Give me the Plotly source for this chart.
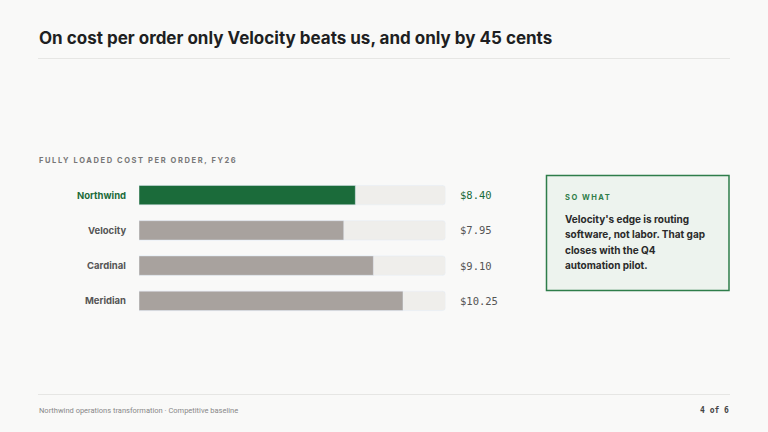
import plotly.graph_objects as go

# data
companies = ["Northwind", "Velocity", "Cardinal", "Meridian"]
cost_per_order = [8.40, 7.95, 9.10, 10.25]
value_labels = ["$8.40", "$7.95", "$9.10", "$10.25"]
track_max = 11.9

callout_lines = [
    "Velocity's edge is routing",
    "software, not labor. That gap",
    "closes with the Q4",
    "automation pilot.",
]

GREEN = "#1b6b3a"
GREY_BAR = "#a8a29e"
TRACK = "#efeeeb"
BG = "#f9f9f8"
W, H = 768, 432

fig = go.Figure()

# background track
fig.add_trace(go.Bar(
    y=companies, x=[track_max] * len(companies), orientation="h",
    marker=dict(color=TRACK), width=0.55, hoverinfo="skip", showlegend=False,
))
fig.add_trace(go.Bar(
    y=companies, x=cost_per_order, orientation="h",
    marker=dict(color=[GREEN if c == "Northwind" else GREY_BAR for c in companies]),
    width=0.55, showlegend=False,
    hovertemplate="%{y}: $%{x:.2f}<extra></extra>",
))

fig.update_layout(
    width=W, height=H,
    paper_bgcolor=BG, plot_bgcolor=BG,
    margin=dict(l=0, r=0, t=0, b=0),
    barmode="overlay", barcornerradius=3,
    xaxis=dict(domain=[139 / W, 445.5 / W], range=[0, track_max],
               visible=False, fixedrange=True),
    yaxis=dict(domain=[1 - 318.5 / H, 1 - 177.5 / H], range=[3.5, -0.5],
               visible=False, fixedrange=True),
    font=dict(family="Inter", color="#333"),
)

ann = []
# title
ann.append(dict(text="<b>On cost per order only Velocity beats us, and only by 45 cents</b>",
                x=37 / W, y=1 - 38 / H, xref="paper", yref="paper",
                xanchor="left", yanchor="middle", showarrow=False,
                font=dict(family="Inter", size=17, color="#1e1f22")))
# subtitle
ann.append(dict(text='<span style="letter-spacing:1.6px"><b>FULLY LOADED COST PER ORDER, FY26</b></span>',
                x=37 / W, y=1 - 160 / H, xref="paper", yref="paper",
                xanchor="left", yanchor="middle", showarrow=False,
                font=dict(family="Inter", size=7.5, color="#777")))

# category and value labels
for c, v in zip(companies, value_labels):
    col = GREEN if c == "Northwind" else "#555"
    ann.append(dict(text="<b>%s</b>" % c, x=128 / W, y=c, xref="paper", yref="y",
                    xanchor="right", yanchor="middle", showarrow=False,
                    font=dict(family="Inter", size=9.5, color=col)))
    ann.append(dict(text=v, x=458 / W, y=c, xref="paper", yref="y",
                    xanchor="left", yanchor="middle", showarrow=False,
                    font=dict(family="DejaVu Sans Mono", size=10.5, color=col)))

# callout
ann.append(dict(text='<span style="letter-spacing:1.5px"><b>SO WHAT</b></span>',
                x=563 / W, y=1 - 198 / H, xref="paper", yref="paper",
                xanchor="left", yanchor="middle", showarrow=False,
                font=dict(family="Inter", size=7.5, color="#2e7d4a")))
for i, line in enumerate(callout_lines):
    ann.append(dict(text="<b>%s</b>" % line,
                    x=563 / W, y=1 - (219 + i * 15.3) / H, xref="paper", yref="paper",
                    xanchor="left", yanchor="middle", showarrow=False,
                    font=dict(family="Inter", size=10, color="#2a2a2a")))

# footer
ann.append(dict(text="Northwind operations transformation · Competitive baseline",
                x=37 / W, y=1 - 410 / H, xref="paper", yref="paper",
                xanchor="left", yanchor="middle", showarrow=False,
                font=dict(family="Roboto", size=7.5, color="#888")))
ann.append(dict(text="<b>4 of 6</b>",
                x=731 / W, y=1 - 410 / H, xref="paper", yref="paper",
                xanchor="right", yanchor="middle", showarrow=False,
                font=dict(family="DejaVu Sans Mono", size=8, color="#444")))
fig.update_layout(annotations=ann)

shapes = [
    dict(type="line", xref="paper", yref="paper", x0=38 / W, x1=730 / W,
         y0=1 - 58.5 / H, y1=1 - 58.5 / H, line=dict(color="#e6e6e4", width=1)),
    dict(type="line", xref="paper", yref="paper", x0=38 / W, x1=730 / W,
         y0=1 - 394.5 / H, y1=1 - 394.5 / H, line=dict(color="#e6e6e4", width=1)),
    dict(type="rect", xref="paper", yref="paper", x0=546.5 / W, x1=729 / W,
         y0=1 - 290.5 / H, y1=1 - 175.5 / H,
         fillcolor="#edf3ee", line=dict(color="#2e7d4a", width=1.5), layer="below"),
]
fig.update_layout(shapes=shapes)

fig.write_html("out.html", config={"displayModeBar": False},
               post_script="document.body.style.margin='0';")
